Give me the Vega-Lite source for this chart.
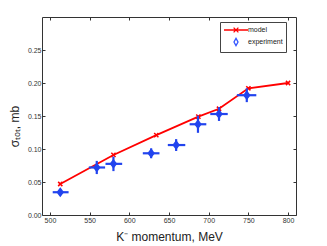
{
  "$schema": "https://vega.github.io/schema/vega-lite/v6.json",
  "width": 254,
  "height": 198,
  "autosize": {"type": "none"},
  "padding": {"left": 42, "top": 17, "right": 31, "bottom": 31},
  "background": "white",
  "config": {
    "font": "Liberation Sans",
    "view": {"stroke": "#333333", "strokeWidth": 1},
    "axis": {
      "domain": false,
      "grid": false,
      "tickSize": -3,
      "tickColor": "#333333",
      "labelFontSize": 7,
      "labelColor": "#333333",
      "labelFont": "Liberation Sans",
      "titleFont": "Liberation Sans",
      "titleFontWeight": "normal",
      "titleFontSize": 12,
      "titleColor": "#222222"
    },
    "legend": {
      "labelFontSize": 7,
      "labelColor": "#222222",
      "labelFont": "Liberation Sans"
    }
  },
  "datasets": {
    "model": [
      {"series": "model", "p": 513, "s": 0.047},
      {"series": "model", "p": 580, "s": 0.091},
      {"series": "model", "p": 634, "s": 0.121},
      {"series": "model", "p": 687, "s": 0.149},
      {"series": "model", "p": 713, "s": 0.161},
      {"series": "model", "p": 750, "s": 0.192},
      {"series": "model", "p": 800, "s": 0.2}
    ],
    "exp": [
      {"series": "experiment", "p": 513, "s": 0.0345, "plo": 503.5, "phi": 523.5, "slo": 0.030, "shi": 0.039},
      {"series": "experiment", "p": 559, "s": 0.072, "plo": 549, "phi": 569.5, "slo": 0.062, "shi": 0.082},
      {"series": "experiment", "p": 580, "s": 0.0775, "plo": 570, "phi": 591, "slo": 0.0665, "shi": 0.0885},
      {"series": "experiment", "p": 627.5, "s": 0.0935, "plo": 617, "phi": 638, "slo": 0.086, "shi": 0.101},
      {"series": "experiment", "p": 659, "s": 0.106, "plo": 648.5, "phi": 670.5, "slo": 0.097, "shi": 0.115},
      {"series": "experiment", "p": 686.5, "s": 0.1375, "plo": 676, "phi": 697, "slo": 0.1245, "shi": 0.1505},
      {"series": "experiment", "p": 713, "s": 0.153, "plo": 702, "phi": 724, "slo": 0.1425, "shi": 0.1635},
      {"series": "experiment", "p": 748, "s": 0.1815, "plo": 735.5, "phi": 760, "slo": 0.171, "shi": 0.192}
    ],
    "legend": [
      {"series": "model", "p": 513, "s": 0.047},
      {"series": "experiment", "p": 513, "s": 0.0345}
    ]
  },
  "layer": [
    {
      "data": {"name": "model"},
      "mark": {"type": "line", "color": "#ff0000", "strokeWidth": 1.8},
      "encoding": {
        "x": {
          "field": "p", "type": "quantitative",
          "scale": {"domain": [490, 810], "nice": false, "zero": false},
          "axis": {"values": [500, 550, 600, 650, 700, 750, 800], "title": "K⁻ momentum, MeV", "labelPadding": 4, "titleBaseline": "alphabetic", "titleY": 25, "titleAnchor": "middle"}
        },
        "y": {
          "field": "s", "type": "quantitative",
          "scale": {"domain": [0, 0.3], "nice": false, "zero": false},
          "axis": {"values": [0, 0.05, 0.1, 0.15, 0.2, 0.25], "title": "σₜₒₜ, mb", "labelPadding": 4, "titleX": -28, "titleY": 109, "titleBaseline": "middle", "titleAngle": -90}
        }
      }
    },
    {
      "data": {"name": "model"},
      "mark": {"type": "point", "shape": "M-1,-1L1,1M-1,1L1,-1", "filled": false, "color": "#ff0000", "strokeWidth": 1.5, "size": 18, "opacity": 1},
      "encoding": {
        "x": {"field": "p", "type": "quantitative", "axis": {"orient": "top", "values": [500, 550, 600, 650, 700, 750, 800], "labels": false, "title": null}},
        "y": {"field": "s", "type": "quantitative", "axis": {"orient": "right", "values": [0, 0.05, 0.1, 0.15, 0.2, 0.25], "labels": false, "title": null}}
      }
    },
    {
      "data": {"name": "exp"},
      "mark": {"type": "rule", "color": "#2244ee", "strokeWidth": 2.2},
      "encoding": {
        "x": {"field": "plo", "type": "quantitative", "axis": null},
        "x2": {"field": "phi"},
        "y": {"field": "s", "type": "quantitative", "axis": null}
      }
    },
    {
      "data": {"name": "exp"},
      "mark": {"type": "rule", "color": "#2244ee", "strokeWidth": 2.2},
      "encoding": {
        "x": {"field": "p", "type": "quantitative", "axis": null},
        "y": {"field": "slo", "type": "quantitative", "axis": null},
        "y2": {"field": "shi"}
      }
    },
    {
      "data": {"name": "exp"},
      "mark": {"type": "point", "shape": "M0,-1L0.75,0L0,1L-0.75,0Z", "filled": true, "color": "#2244ee", "stroke": "#2244ee", "strokeWidth": 2, "size": 45, "opacity": 1},
      "encoding": {
        "x": {"field": "p", "type": "quantitative", "axis": null},
        "y": {"field": "s", "type": "quantitative", "axis": null}
      }
    },
    {
      "data": {"name": "legend"},
      "mark": {"type": "point", "filled": false, "opacity": 0, "strokeWidth": 1.5},
      "encoding": {
        "x": {"field": "p", "type": "quantitative", "axis": null},
        "y": {"field": "s", "type": "quantitative", "axis": null},
        "color": {
          "field": "series", "type": "nominal",
          "scale": {"domain": ["model", "experiment"], "range": ["#ff0000", "#3355ff"]},
          "legend": {
            "title": null,
            "orient": "none",
            "legendX": 178,
            "legendY": 5,
            "padding": 3,
            "rowPadding": 0,
            "strokeColor": "#444444",
            "fillColor": "white",
            "symbolSize": 64,
            "symbolOffset": 8,
            "symbolOpacity": 1,
            "symbolStrokeWidth": 1.3,
            "labelOffset": 7
          }
        },
        "shape": {
          "field": "series", "type": "nominal",
          "scale": {"domain": ["model", "experiment"], "range": ["M-3,0H3M-0.6,-0.6L0.6,0.6M-0.6,0.6L0.6,-0.6", "M0,-0.9L0.5,0L0,0.9L-0.5,0Z"]},
          "legend": {
            "title": null,
            "orient": "none",
            "legendX": 178,
            "legendY": 5,
            "padding": 3,
            "rowPadding": 0,
            "strokeColor": "#444444",
            "fillColor": "white",
            "symbolSize": 64,
            "symbolOffset": 8,
            "symbolOpacity": 1,
            "symbolStrokeWidth": 1.3,
            "labelOffset": 7
          }
        }
      }
    }
  ],
  "resolve": {"axis": {"x": "independent", "y": "independent"}}
}
